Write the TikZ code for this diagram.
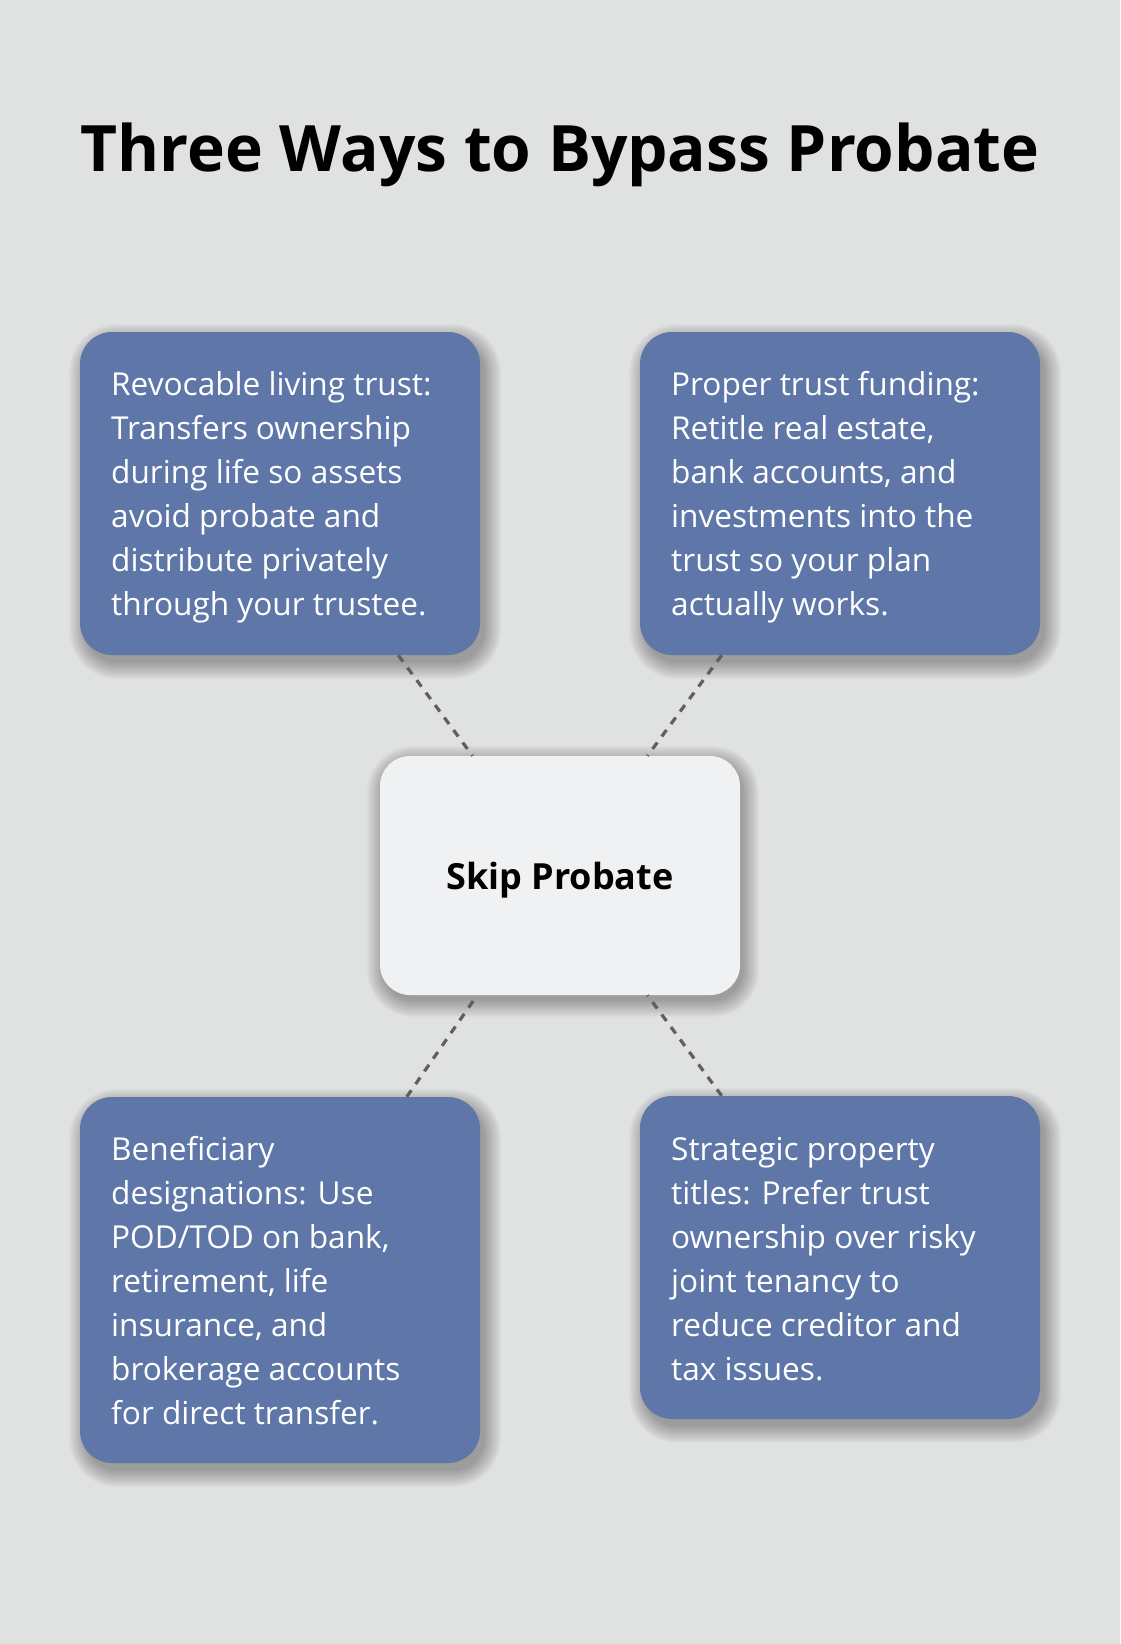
\documentclass[tikz,border=0pt]{standalone}
\usepackage{fontspec}
\setmainfont{Open Sans}
\definecolor{bg}{HTML}{E0E2E1}
\definecolor{boxblue}{HTML}{5E77A8}
\definecolor{centerfill}{HTML}{F0F1F3}
\definecolor{linkgray}{HTML}{5F5F5F}
\tikzset{
  cardbox/.style={rectangle, rounded corners=32pt, fill=boxblue, minimum width=400pt, inner sep=0pt},
  hubbox/.style={rectangle, rounded corners=30pt, fill=centerfill, minimum width=360pt, minimum height=239pt, inner sep=0pt,
    text depth=0pt, font=\bfseries\fontsize{36}{42}\selectfont},
  cardtext/.style={anchor=base west, inner sep=0pt, text=white, font=\fontsize{31.6}{44}\selectfont},
  link/.style={draw=linkgray, line width=3.2pt, dash pattern=on 8pt off 7.5pt},
  titletext/.style={font=\bfseries\fontsize{64}{76}\selectfont, inner sep=0pt, anchor=base},
  softshade/.style={fill=black, fill opacity=0.02}
}
% soft drop shadow: centre x, centre y, width, height, radius, dx, dy
\newcommand\dropshade[7]{%
  \foreach \k in {0,...,15}{%
    \pgfmathsetmacro\ee{16-1.1*\k}%
    \fill[softshade, rounded corners=#5pt+\ee pt]
      (#1-#3/2+#6-\ee, #2-#4/2+#7-\ee) rectangle (#1+#3/2+#6+\ee, #2+#4/2+#7+\ee);
  }%
}
\begin{document}
\begin{tikzpicture}[x=1pt,y=-1pt]
\fill[bg] (0,0) rectangle (1120,1644);
\useasboundingbox (0,0) rectangle (1120,1644);

\node[titletext] (title) at (560,171) {Three Ways to Bypass Probate};

\dropshade{280}{493.5}{400}{323}{32}{5}{8}
\dropshade{840}{493.5}{400}{323}{32}{5}{8}
\dropshade{280}{1280}{400}{366}{32}{5}{8}
\dropshade{840}{1257.5}{400}{323}{32}{5}{8}
\dropshade{560}{875.5}{360}{239}{30}{3}{6}

\node[cardbox, minimum height=323pt] (b1) at (280,493.5) {};
\node[cardbox, minimum height=323pt] (b2) at (840,493.5) {};
\node[cardbox, minimum height=366pt] (b3) at (280,1280) {};
\node[cardbox, minimum height=323pt] (b4) at (840,1257.5) {};
\node[hubbox] (hub) at (560,875.5) {Skip Probate};

\draw[link] (b1) -- (hub);
\draw[link] (b2) -- (hub);
\draw[link] (b3) -- (hub);
\draw[link] (b4) -- (hub);

\node[cardtext] (t1) at (111,395) {\parbox[t]{370pt}{\raggedright
Revocable living trust:\\
Transfers ownership\\
during life so assets\\
avoid probate and\\
distribute privately\\
through your trustee.}};

\node[cardtext] (t2) at (671,395) {\parbox[t]{370pt}{\raggedright
Proper trust funding:\\
Retitle real estate,\\
bank accounts, and\\
investments into the\\
trust so your plan\\
actually works.}};

\node[cardtext] (t3) at (111,1160) {\parbox[t]{370pt}{\raggedright
Beneficiary\\
designations: Use\\
POD/TOD on bank,\\
retirement, life\\
insurance, and\\
brokerage accounts\\
for direct transfer.}};

\node[cardtext] (t4) at (671,1160) {\parbox[t]{370pt}{\raggedright
Strategic property\\
titles: Prefer trust\\
ownership over risky\\
joint tenancy to\\
reduce creditor and\\
tax issues.}};
\end{tikzpicture}
\end{document}
